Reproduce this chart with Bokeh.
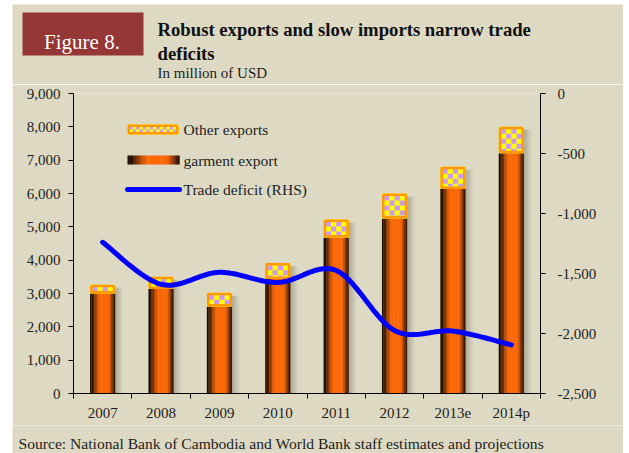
import numpy as np
from bokeh.plotting import figure
from bokeh.layouts import column
from bokeh.models import Range1d, LinearAxis, FixedTicker, NumeralTickFormatter, Label
from bokeh.core.properties import value
from bokeh.embed import file_html
from bokeh.resources import INLINE

# ---------------- data ----------------
categories = ["2007", "2008", "2009", "2010", "2011", "2012", "2013e", "2014p"]
garment_export = [3000, 3140, 2610, 3440, 4680, 5250, 6140, 7210]
other_exports = [260, 360, 410, 470, 540, 750, 660, 790]
trade_deficit = [-1240, -1590, -1490, -1575, -1475, -1975, -1980, -2095]
left_ticks = [0, 1000, 2000, 3000, 4000, 5000, 6000, 7000, 8000, 9000]
right_ticks = [-2500, -2000, -1500, -1000, -500, 0]

title_text = "Robust exports and slow imports narrow trade"
title_text2 = "deficits"
subtitle_text = "In million of USD"
figure_tag = "Figure 8."
source_text = "Source: National Bank of Cambodia and World Bank staff estimates and projections"
legend_labels = ["Other exports", "garment export", "Trade deficit (RHS)"]

# ---------------- styles / layout ----------------
BG = "#DDD9C3"
RED = "#953735"
ORANGE = "#FF6600"
DARK = (28, 10, 0)
BORDER_OR = "#FF9900"
YELLOW = "#FFFF00"
LAVENDER = "#CC99EE"
BLUE = "#0000FF"
TXT = "#1E1E1E"
FONT = "Liberation Serif"

OX, OY = 12, 4            # page offset of the panel
W = 611
HH = 80                   # header height
CH = 341                  # chart height
FH_ = 28                  # footer height
WIN_FL, WIN_FR, WIN_FT, WIN_FB = 73, 540, 93, 393   # frame in window px
FL = WIN_FL - OX
FR = WIN_FR - OX
FT = WIN_FT - (OY + HH)
FB = WIN_FB - (OY + HH)
FW, FHh = FR - FL, FB - FT
n = len(categories)
YMAX = left_ticks[-1]
PXX = FW / n
PXY = FHh / YMAX

def fx(X):
    return (X - WIN_FL) / PXX

def fy(Y):
    return (WIN_FB - Y) / PXY

def plain_fig(h):
    f = figure(width=W, height=h, output_backend="svg", toolbar_location=None,
               x_range=Range1d(0, W), y_range=Range1d(h, 0),
               x_axis_type=None, y_axis_type=None,
               min_border=0, min_border_left=0, min_border_right=0,
               min_border_top=0, min_border_bottom=0,
               background_fill_color=BG, border_fill_color=BG, outline_line_color=None)
    f.grid.visible = False
    f.frame_align = False
    return f

# ---------------- header ----------------
hdr = plain_fig(HH)
hdr.quad(left=[22 - OX], right=[143 - OX], top=[12 - OY], bottom=[55 - OY],
         fill_color=RED, line_color=None)
hdr.text(x=[81.5 - OX], y=[41.7 - OY], text=[figure_tag], text_font=value(FONT),
         text_font_size="21px", text_color="white", text_align="center",
         text_baseline="alphabetic")
hdr.text(x=[157 - OX, 157 - OX], y=[29.3 - OY, 52.7 - OY], text=[title_text, title_text2],
         text_font=value(FONT), text_font_size="18.7px", text_font_style="bold",
         text_color="#111111", text_baseline="alphabetic")
hdr.text(x=[157 - OX], y=[72.7 - OY], text=[subtitle_text], text_font=value(FONT),
         text_font_size="15px", text_color=TXT, text_baseline="alphabetic")

# ---------------- footer ----------------
ftr = plain_fig(FH_)
ftr.text(x=[18 - OX], y=[443 - (OY + HH + CH)], text=[source_text], text_font=value(FONT),
         text_font_size="15.6px", text_color=TXT, text_baseline="alphabetic")

# ---------------- chart ----------------
p = figure(width=W, height=CH, output_backend="svg", toolbar_location=None,
           x_range=Range1d(0, n), y_range=Range1d(0, YMAX),
           min_border_left=FL, min_border_right=W - FR,
           min_border_top=FT, min_border_bottom=CH - FB,
           background_fill_color=BG, border_fill_color=BG,
           outline_line_color=None)
p.frame_align = False
p.extra_y_ranges = {"rhs": Range1d(right_ticks[0], right_ticks[-1])}
p.grid.visible = False

xc = np.arange(n) + 0.5
garm = np.array(garment_export, dtype=float)
oth = np.array(other_exports, dtype=float)
total = garm + oth
bw = 25 / PXX

def shade(t):
    if t < 0.42:
        b = t / 0.42
        b = b * b * (3 - 2 * b)
    elif t < 0.72:
        b = 1.0
    else:
        u = (t - 0.72) / 0.28
        b = 1 - 0.88 * (u * u * (3 - 2 * u))
    c = [int(round(DARK[k] + (int(ORANGE[1 + 2 * k:3 + 2 * k], 16) - DARK[k]) * b)) for k in range(3)]
    return "#%02x%02x%02x" % tuple(c)

# shadows
for off, a in [(2, 0.07), (4, 0.06), (6, 0.05), (8, 0.03)]:
    p.vbar(x=xc + off / PXX, width=bw, top=total - 3 / PXY, bottom=0,
           fill_color="black", fill_alpha=a, line_color=None)

# garment bars with cylindrical shading
NS = 18
for k in range(NS):
    t = (k + 0.5) / NS
    p.vbar(x=xc - bw / 2 + t * bw, width=bw / NS * 1.15, top=garm, bottom=0,
           fill_color=shade(t), line_color=None)

def checker(l, r, b, t, ncol, sq_h, border):
    L, R, T, B = [], [], [], []
    l2, r2 = l + border / PXX, r - border / PXX
    b2, t2 = b + border / PXY, t - border / PXY
    cw = (r2 - l2) / ncol
    nrow = int(np.ceil((t2 - b2) / sq_h - 1e-6))
    for rr in range(nrow):
        top_ = t2 - rr * sq_h
        bot_ = max(b2, top_ - sq_h)
        for cc in range(ncol):
            if (rr + cc) % 2 == 0:
                L.append(l2 + cc * cw); R.append(l2 + (cc + 1) * cw)
                T.append(top_); B.append(bot_)
    return L, R, T, B

# other exports: checker boxes
p.quad(left=xc - bw / 2, right=xc + bw / 2, bottom=garm, top=total,
       fill_color=YELLOW, line_color=None)
CL, CR, CT, CB = [], [], [], []
for i in range(n):
    L, R, T, B = checker(xc[i] - bw / 2, xc[i] + bw / 2, garm[i], total[i], 4, 5 / PXY, 2)
    CL += L; CR += R; CT += T; CB += B
p.quad(left=CL, right=CR, top=CT, bottom=CB, fill_color=LAVENDER, line_color=None)
p.quad(left=xc - bw / 2 + 1.2 / PXX, right=xc + bw / 2 - 1.2 / PXX,
       bottom=garm + 1.2 / PXY, top=total - 1.2 / PXY,
       fill_color=None, line_color=BORDER_OR, line_width=2.5)

# trade deficit smoothed line (Catmull-Rom)
def catmull(xs, ys, steps=24):
    P = np.column_stack([xs, ys]).astype(float)
    m = len(P)
    out = []
    for i in range(m - 1):
        p0 = P[i - 1] if i > 0 else P[i]
        p1, p2 = P[i], P[i + 1]
        p3 = P[i + 2] if i + 2 < m else P[i + 1]
        for s in range(steps):
            t = s / steps
            t2, t3 = t * t, t * t * t
            pt = 0.5 * ((2 * p1) + (-p0 + p2) * t + (2 * p0 - 5 * p1 + 4 * p2 - p3) * t2
                        + (-p0 + 3 * p1 - 3 * p2 + p3) * t3)
            out.append(pt)
    out.append(P[-1])
    out = np.array(out)
    return out[:, 0], out[:, 1]

lx, ly = catmull(xc, trade_deficit)
p.line(lx, ly, y_range_name="rhs", line_color=BLUE, line_width=5, line_cap="round", line_join="round")

# ---------------- axes ----------------
def style_axis(ax):
    ax.axis_line_color = "black"
    ax.axis_line_width = 1
    ax.major_tick_line_color = "black"
    ax.minor_tick_line_color = None
    ax.major_label_text_font = FONT
    ax.major_label_text_font_size = "15px"
    ax.major_label_text_color = TXT

xa = p.xaxis[0]
style_axis(xa)
xa.ticker = FixedTicker(ticks=list(xc), minor_ticks=list(range(n + 1)))
xa.major_label_overrides = {float(c): lab for c, lab in zip(xc, categories)}
xa.major_tick_out = 0
xa.major_tick_in = 0
xa.minor_tick_line_color = "black"
xa.minor_tick_out = 5
xa.minor_tick_in = 0
xa.major_label_standoff = 6

ya = p.yaxis[0]
style_axis(ya)
ya.ticker = FixedTicker(ticks=left_ticks)
ya.formatter = NumeralTickFormatter(format="0,0")
ya.major_tick_out = 5
ya.major_tick_in = 0
ya.major_label_standoff = 8

ra = LinearAxis(y_range_name="rhs", ticker=FixedTicker(ticks=right_ticks),
                formatter=NumeralTickFormatter(format="0,0"))
style_axis(ra)
ra.major_tick_out = 5
ra.major_tick_in = 0
ra.major_label_standoff = 12
p.add_layout(ra, "right")

# ---------------- legend (manual) ----------------
lx0, lx1 = fx(127), fx(178)
p.quad(left=[lx0], right=[lx1], top=[fy(124)], bottom=[fy(134)], fill_color=YELLOW, line_color=None)
L, R, T, B = checker(lx0, lx1, fy(134), fy(124), 14, 3 / PXY, 2)
p.quad(left=L, right=R, top=T, bottom=B, fill_color=LAVENDER, line_color=None)
p.quad(left=[lx0 + 1.2 / PXX], right=[lx1 - 1.2 / PXX], top=[fy(125.2)], bottom=[fy(132.8)],
       fill_color=None, line_color=BORDER_OR, line_width=2.5)
gl, gr = fx(127), fx(179)
NG = 30
for k in range(NG):
    t = (k + 0.5) / NG
    p.quad(left=[gl + k * (gr - gl) / NG], right=[gl + (k + 1.15) * (gr - gl) / NG],
           top=[fy(155)], bottom=[fy(164)], fill_color=shade(min(t, 0.999)), line_color=None)
p.line([fx(127), fx(179)], [fy(189), fy(189)], line_color=BLUE, line_width=5, line_cap="round")

for lab, Y in zip(legend_labels, [129, 160, 189]):
    p.add_layout(Label(x=fx(183), y=fy(Y), text=lab, text_font=FONT, text_font_size="15.5px",
                       text_color=TXT, text_baseline="middle", text_align="left"))

page = column(hdr, p, ftr, spacing=0, margin=(OY, 0, 0, OX))
open("out.html", "w").write(file_html(page, INLINE))
